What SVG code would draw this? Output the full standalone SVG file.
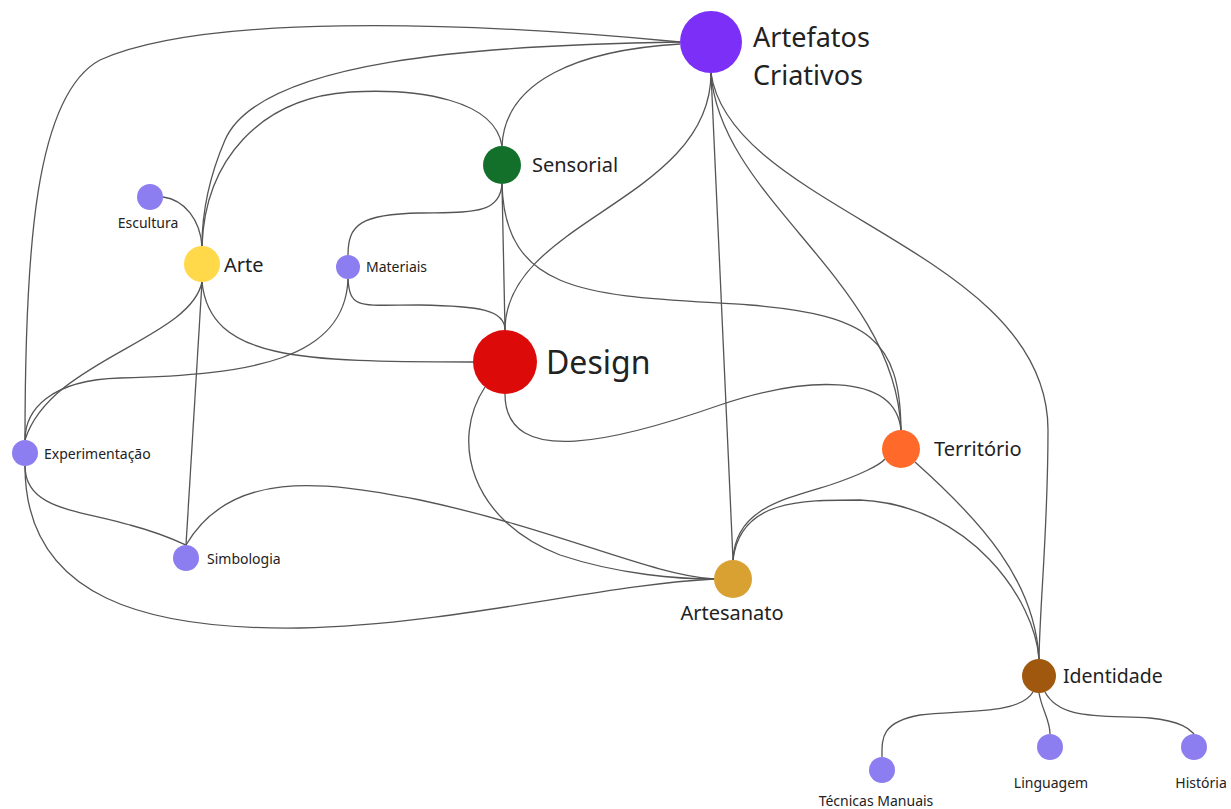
<svg xmlns="http://www.w3.org/2000/svg" width="1231" height="809" viewBox="0 0 1231 809">
<style>
.e{fill:none;stroke:#555;stroke-width:1.3}
text{font-family:"Noto Sans","Open Sans","DejaVu Sans",sans-serif;fill:#222}
.s{font-size:14px}
.m{font-size:20px}
.sm{fill:#8c7ef0}
</style>
<rect width="1231" height="809" fill="#fff"/>
<g id="connectors">
<path class="e" d="M680,42 C450,20 200,15 100,60 C35,95 25,250 25,440"/>
<path class="e" d="M680,42 C480,45 260,60 225,140 C210,175 202,210 202,246"/>
<path class="e" d="M680,44 C580,50 505,80 502,146"/>
<path class="e" d="M711,73 C711,200 505,220 505,330"/>
<path class="e" d="M711,73 L733,560"/>
<path class="e" d="M711,73 C720,200 895,280 901,430"/>
<path class="e" d="M711,73 C730,210 1048,250 1048,430 C1048,530 1040,600 1039,659"/>
<path class="e" d="M502,146 C495,100 420,88 350,92 C260,98 205,160 202,246"/>
<path class="e" d="M502,184 C500,215 470,212 420,213 C360,214 348,225 348,255"/>
<path class="e" d="M502,184 L505,330"/>
<path class="e" d="M502,184 C505,300 600,295 750,305 C870,315 900,340 901,430"/>
<path class="e" d="M163,197 C185,200 200,220 202,246"/>
<path class="e" d="M202,282 C210,360 300,362 473,362"/>
<path class="e" d="M202,282 C190,340 50,360 25,440"/>
<path class="e" d="M202,282 L186,545"/>
<path class="e" d="M348,279 C350,310 360,305 420,305 C480,306 505,310 505,330"/>
<path class="e" d="M348,279 C345,360 250,375 120,378 C50,380 25,410 25,440"/>
<path class="e" d="M25,466 C25,510 80,510 130,525 C160,533 175,540 186,545"/>
<path class="e" d="M25,466 C25,600 150,630 300,628 C450,625 600,585 714,579"/>
<path class="e" d="M186,545 C230,470 320,480 420,500 C560,530 650,575 714,579"/>
<path class="e" d="M505,394 C505,470 620,440 720,405 C800,378 895,370 901,430"/>
<path class="e" d="M485,387 C450,440 470,520 560,555 C620,575 680,579 714,579"/>
<path class="e" d="M733,560 C735,510 780,500 830,485 C860,475 880,465 885,459"/>
<path class="e" d="M733,560 C740,500 800,500 860,500 C970,505 1035,600 1039,659"/>
<path class="e" d="M915,462 C980,520 1035,580 1039,659"/>
<path class="e" d="M1033,692 C1020,715 960,710 920,715 C880,722 882,740 882,757"/>
<path class="e" d="M1039,693 C1042,710 1050,720 1050,734"/>
<path class="e" d="M1045,692 C1060,720 1100,715 1150,718 C1185,722 1190,730 1194,734"/>
</g>
<g id="artefatos"><circle cx="711" cy="42" r="31" fill="#7b2ff7"/><text x="753" y="47" font-size="27">Artefatos</text><text x="753" y="85" font-size="27">Criativos</text></g>
<g id="sensorial"><circle cx="502" cy="165" r="19" fill="#12702b"/><text x="532" y="172" class="m">Sensorial</text></g>
<g id="arte"><circle cx="202" cy="264" r="18" fill="#ffd94a"/><text x="224" y="272" class="m">Arte</text></g>
<g id="escultura"><circle cx="150" cy="197" r="13" class="sm"/><text x="148" y="228" class="s" text-anchor="middle">Escultura</text></g>
<g id="materiais"><circle cx="348" cy="267" r="12" class="sm"/><text x="366" y="272" class="s">Materiais</text></g>
<g id="design"><circle cx="505" cy="362" r="32" fill="#dd0a0a"/><text x="546" y="374" font-size="32">Design</text></g>
<g id="experimentacao"><circle cx="25" cy="453" r="13" class="sm"/><text x="44" y="459" class="s">Experimentação</text></g>
<g id="simbologia"><circle cx="186" cy="558" r="13" class="sm"/><text x="207" y="564" class="s">Simbologia</text></g>
<g id="artesanato"><circle cx="733" cy="579" r="19" fill="#d9a032"/><text x="732" y="620" class="m" text-anchor="middle">Artesanato</text></g>
<g id="territorio"><circle cx="901" cy="449" r="19" fill="#ff6a2a"/><text x="934" y="456" class="m">Território</text></g>
<g id="identidade"><circle cx="1039" cy="676" r="17" fill="#a0580f"/><text x="1063" y="683" font-size="19.5">Identidade</text></g>
<g id="tecnicas"><circle cx="882" cy="770" r="13" class="sm"/><text x="876" y="806" class="s" text-anchor="middle">Técnicas Manuais</text></g>
<g id="linguagem"><circle cx="1050" cy="747" r="13" class="sm"/><text x="1051" y="788" class="s" text-anchor="middle">Linguagem</text></g>
<g id="historia"><circle cx="1194" cy="747" r="13" class="sm"/><text x="1201" y="788" class="s" text-anchor="middle">História</text></g>
</svg>
